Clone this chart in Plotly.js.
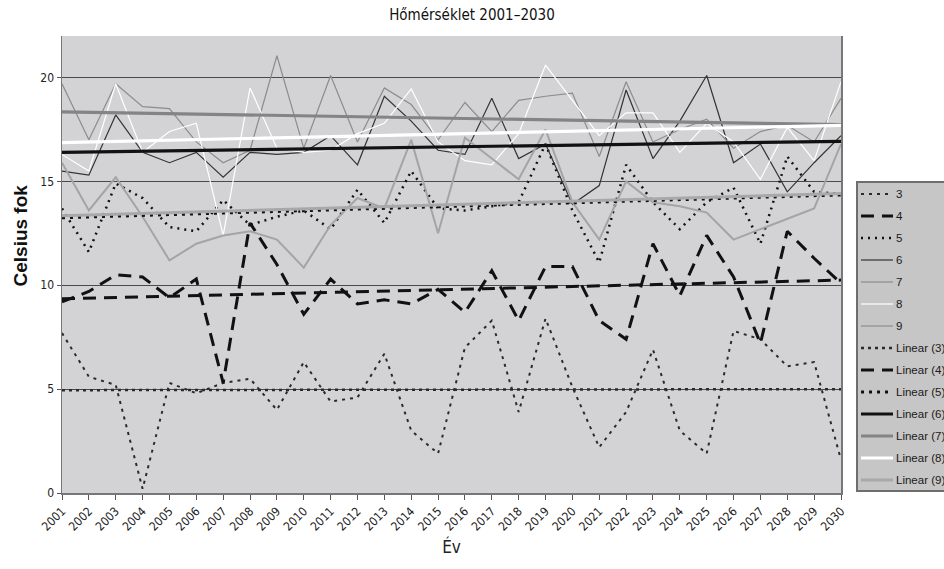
<!DOCTYPE html>
<html>
<head>
<meta charset="utf-8">
<script src="https://cdn.plot.ly/plotly-3.0.1.min.js"></script>
<style>
  html, body { margin: 0; padding: 0; background: #ffffff; overflow: hidden; }
  #chart { width: 944px; height: 569px; }
</style>
</head>
<body>
<div id="chart"></div>
<script>
// ---- data ----
const years = [2001, 2002, 2003, 2004, 2005, 2006, 2007, 2008, 2009, 2010,
               2011, 2012, 2013, 2014, 2015, 2016, 2017, 2018, 2019, 2020,
               2021, 2022, 2023, 2024, 2025, 2026, 2027, 2028, 2029, 2030];

const s3 = [7.7, 5.6, 5.2, 0.2, 5.3, 4.8, 5.3, 5.5, 4.0, 6.3,
            4.4, 4.6, 6.7, 3.0, 1.9, 7.0, 8.3, 3.9, 8.4, 5.1,
            2.2, 3.9, 6.9, 3.0, 1.9, 7.8, 7.4, 6.1, 6.3, 1.6];
const s4 = [9.2, 9.7, 10.5, 10.4, 9.4, 10.3, 5.3, 13.0, 11.0, 8.6,
            10.3, 9.1, 9.3, 9.1, 9.8, 8.7, 10.7, 8.3, 10.9, 10.9,
            8.3, 7.4, 12.0, 9.5, 12.4, 10.4, 7.2, 12.6, 11.3, 10.1];
const s5 = [13.7, 11.6, 14.9, 14.2, 12.8, 12.6, 14.1, 12.9, 13.3, 13.6,
            12.7, 14.6, 13.0, 15.5, 13.7, 13.6, 13.8, 14.0, 16.8, 13.6,
            11.1, 15.8, 14.0, 12.7, 14.0, 14.7, 12.0, 16.2, 14.5, 14.4];
const s6 = [15.5, 15.3, 18.2, 16.4, 15.9, 16.4, 15.2, 16.4, 16.3, 16.4,
            17.2, 15.8, 19.1, 17.9, 16.5, 16.3, 19.0, 16.1, 16.8, 13.9,
            14.8, 19.4, 16.1, 17.9, 20.1, 15.9, 16.8, 14.5, 15.9, 17.2];
const s7 = [19.7, 17.0, 19.7, 18.6, 18.5, 16.9, 15.9, 16.5, 21.05, 16.6,
            20.1, 16.9, 19.5, 18.7, 17.0, 18.8, 17.4, 18.9, 19.1, 19.25,
            16.2, 19.8, 16.9, 17.5, 18.0, 16.6, 17.4, 17.7, 16.9, 19.0];
const s8 = [16.3, 15.5, 19.7, 16.4, 17.4, 17.8, 12.4, 19.5, 16.6, 16.4,
            16.5, 17.3, 17.8, 19.45, 16.9, 16.0, 15.8, 17.3, 20.6, 18.9,
            17.2, 18.3, 18.3, 16.4, 17.8, 16.9, 15.1, 17.6, 16.0, 19.8];
const s9 = [15.9, 13.6, 15.2, 13.3, 11.2, 12.0, 12.4, 12.6, 12.2, 10.85,
            12.9, 14.2, 13.7, 17.0, 12.5, 17.1, 16.1, 15.1, 17.5, 14.0,
            12.2, 15.0, 14.0, 13.8, 13.5, 12.2, 12.7, 13.2, 13.7, 16.8];

// linear trend lines: value at first and last year
const trendYears = [2001, 2030];
const lin3 = [4.95, 5.0];
const lin4 = [9.35, 10.25];
const lin5 = [13.25, 14.35];
const lin6 = [16.4, 16.93];
const lin7 = [18.35, 17.73];
const lin8 = [16.87, 17.7];
const lin9 = [13.35, 14.42];

const seriesNames = ['3', '4', '5', '6', '7', '8', '9'];
const trendNames = ['Linear (3)', 'Linear (4)', 'Linear (5)', 'Linear (6)', 'Linear (7)', 'Linear (8)', 'Linear (9)'];
const yTicks = [0, 5, 10, 15, 20];

// ---- styles ----
const seriesStyles = [
  {color: '#2a2a2a', width: 2, dash: '3px,5px'},
  {color: '#111111', width: 3, dash: '13px,8px'},
  {color: '#111111', width: 2.5, dash: '2px,5px'},
  {color: '#333333', width: 1.2, dash: 'solid'},
  {color: '#8c8c8c', width: 1.2, dash: 'solid'},
  {color: '#ffffff', width: 1.2, dash: 'solid'},
  {color: '#a4a4a4', width: 2, dash: 'solid'}
];
const trendStyles = [
  {color: '#2a2a2a', width: 2.5, dash: '3px,4px'},
  {color: '#111111', width: 3, dash: '13px,8px'},
  {color: '#111111', width: 3, dash: '3px,5px'},
  {color: '#111111', width: 3.2, dash: 'solid'},
  {color: '#848484', width: 3.2, dash: 'solid'},
  {color: '#ffffff', width: 3.2, dash: 'solid'},
  {color: '#a8a8a8', width: 3, dash: 'solid'}
];

const seriesData = [s3, s4, s5, s6, s7, s8, s9];
const trendData = [lin3, lin4, lin5, lin6, lin7, lin8, lin9];

const traces = [];
seriesData.forEach((ys, i) => {
  traces.push({
    type: 'scatter', mode: 'lines', x: years, y: ys, name: seriesNames[i],
    line: seriesStyles[i], hoverinfo: 'skip', showlegend: false
  });
});
trendData.forEach((ys, i) => {
  traces.push({
    type: 'scatter', mode: 'lines', x: trendYears, y: ys, name: trendNames[i],
    line: trendStyles[i], hoverinfo: 'skip', showlegend: false
  });
});

// ---- layout geometry (pixels) ----
const W = 944, H = 569;
const M = {l: 62, r: 103, t: 36, b: 76};
const plotW = W - M.l - M.r, plotH = H - M.t - M.b;
const px2x = p => (p - M.l) / plotW;
const px2y = p => (H - M.b - p) / plotH;

const narrow = "'Liberation Sans Narrow', 'Arial Narrow', 'DejaVu Sans Condensed', sans-serif";

// ---- hand-built legend box (as in the original, partly cut at the right edge) ----
const legendNames = seriesNames.concat(trendNames);
const legendStyles = seriesStyles.concat(trendStyles);
const legTop = 182, legBottom = 491, legLeft = 857, legRight = 950;
const itemY0 = 194, itemStep = 22;

const shapes = [{
  type: 'rect', xref: 'paper', yref: 'paper', layer: 'above',
  x0: px2x(legLeft), x1: px2x(legRight), y0: px2y(legBottom), y1: px2y(legTop),
  fillcolor: '#c6c6c6', line: {color: '#6e6e6e', width: 2}
}];
const annotations = [];
legendNames.forEach((name, k) => {
  const yy = itemY0 + itemStep * k;
  const st = legendStyles[k];
  shapes.push({
    type: 'line', xref: 'paper', yref: 'paper', layer: 'above',
    x0: px2x(861), x1: px2x(893), y0: px2y(yy), y1: px2y(yy),
    line: {color: st.color, width: Math.min(st.width, 3), dash: st.dash}
  });
  annotations.push({
    text: name, xref: 'paper', yref: 'paper',
    x: px2x(894), y: px2y(yy), xanchor: 'left', yanchor: 'middle',
    showarrow: false,
    font: {family: "'Liberation Sans', Arial, sans-serif", size: 11.5, color: '#1a1a1a'}
  });
});

annotations.push({
  text: '<b>Celsius fok</b>', textangle: -90,
  xref: 'paper', yref: 'paper',
  x: px2x(20), y: px2y(235.5),
  xanchor: 'center', yanchor: 'middle', showarrow: false,
  font: {family: "'Liberation Sans', Arial, sans-serif", size: 19, color: '#111111'}
});

const layout = {
  width: W, height: H,
  margin: {l: M.l, r: M.r, t: M.t, b: M.b, pad: 0, autoexpand: false},
  paper_bgcolor: '#ffffff',
  plot_bgcolor: '#d3d3d5',
  showlegend: false,
  title: {
    text: 'Hőmérséklet 2001–2030',
    font: {family: narrow, size: 15, color: '#111111'},
    x: 0.5, xref: 'container', xanchor: 'center',
    y: 1 - 15 / H, yref: 'container', yanchor: 'middle'
  },
  xaxis: {
    type: 'linear', range: [2001, 2030],
    tickmode: 'array', tickvals: years, ticktext: years.map(String),
    tickangle: -45, ticks: 'outside', ticklen: 5, tickcolor: '#555555',
    tickfont: {family: narrow, size: 12, color: '#222222'},
    showgrid: false, zeroline: false,
    showline: true, linecolor: '#777777', linewidth: 1.5,
    title: {text: 'Év', font: {family: narrow, size: 17, color: '#222222'}, standoff: 8}
  },
  yaxis: {
    range: [0, 22], tickmode: 'array', tickvals: yTicks,
    ticks: 'outside', ticklen: 4, tickcolor: '#555555',
    tickfont: {family: narrow, size: 12, color: '#222222'},
    showgrid: true, gridcolor: '#4a4a4a', gridwidth: 1,
    zeroline: false,
    showline: true, linecolor: '#777777', linewidth: 1.5, mirror: true
  },
  shapes: shapes,
  annotations: annotations
};

Plotly.newPlot('chart', traces, layout, {staticPlot: true, displayModeBar: false});
</script>
</body>
</html>
